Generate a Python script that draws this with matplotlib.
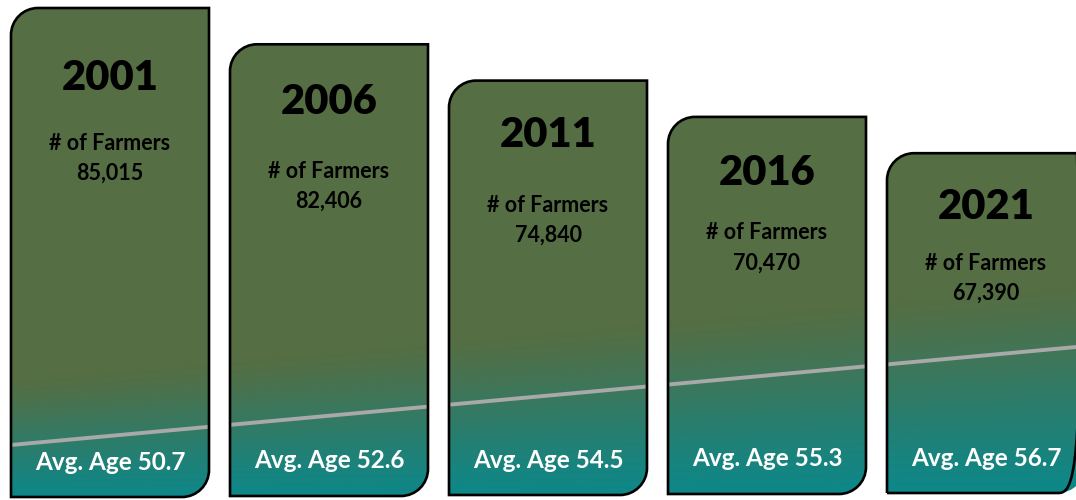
import numpy as np
import matplotlib.pyplot as plt
from matplotlib.path import Path
from matplotlib.patches import PathPatch
from matplotlib.colors import to_rgb

years = ['2001', '2006', '2011', '2016', '2021']
farmers = [85015, 82406, 74840, 70470, 67390]
avg_age = [50.7, 52.6, 54.5, 55.3, 56.7]

W, H = 1076, 500
green = np.array(to_rgb('#566e43'))
teal = np.array(to_rgb('#0c888a'))
plt.rcParams['font.family'] = ['Lato', 'DejaVu Sans']

# card layout (pixel units, y grows downward)
left0, step, width = 11, 219, 198
top0, rise = 8, 36.3
year_off = [70, 58, 54, 56, 54]
label_off = [135, 127, 125, 116, 110]


def line_y(x):
    # slanted divider running through all cards
    return 445 - 0.092 * (x - 11)


def tab_path(x0, y0, x1, y1, r):
    # rectangle with rounded top-left and bottom-right corners
    k = 0.5523 * r
    verts = [
        (x0, y1),
        (x0, y0 + r),
        (x0, y0 + r - k), (x0 + r - k, y0), (x0 + r, y0),
        (x1, y0),
        (x1, y1 - r),
        (x1, y1 - r + k), (x1 - r + k, y1), (x1 - r, y1),
        (x0, y1),
    ]
    codes = [Path.MOVETO, Path.LINETO,
             Path.CURVE4, Path.CURVE4, Path.CURVE4,
             Path.LINETO, Path.LINETO,
             Path.CURVE4, Path.CURVE4, Path.CURVE4,
             Path.CLOSEPOLY]
    return Path(verts, codes)


fig = plt.figure(figsize=(W / 100, H / 100), dpi=100)
ax = fig.add_axes([0, 0, 1, 1])
ax.set_xlim(0, W)
ax.set_ylim(H, 0)
ax.axis('off')

X, Y = np.meshgrid(np.arange(W) + 0.5, np.arange(H) + 0.5)

for i, (yr, n, age) in enumerate(zip(years, farmers, avg_age)):
    x0 = left0 + i * step
    x1 = x0 + width
    top = top0 + i * rise
    bottom = 497 - i
    path = tab_path(x0, top, x1, bottom, 27)

    # fill: flat green that fades to teal towards the bottom, tilted like the divider
    start = line_y(X) - 65
    t = np.clip((Y - start) / (bottom + 4 - start), 0, 1)
    t = t * t * (3 - 2 * t) * 0.35 + t * 0.65
    img = green[None, None, :] * (1 - t[..., None]) + teal[None, None, :] * t[..., None]
    clip = PathPatch(path, transform=ax.transData, facecolor='none', edgecolor='none')
    ax.add_patch(clip)
    im = ax.imshow(img, extent=(0, W, H, 0), origin='upper', zorder=1,
                   interpolation='bilinear')
    im.set_clip_path(clip)

    ln, = ax.plot([0, W], [line_y(0), line_y(W)], color='#a9a9a9', lw=2.8, zorder=2)
    ln.set_clip_path(clip)

    ax.add_patch(PathPatch(path, facecolor='none', edgecolor='black', lw=1.9, zorder=3))

    cx = (x0 + x1) / 2
    ax.text(cx, top + year_off[i], yr, ha='center', va='center',
            fontsize=30, fontweight='heavy', color='black', zorder=4)
    ax.text(cx, top + label_off[i], '# of Farmers', ha='center', va='center',
            fontsize=15.5, fontweight='bold', color='black', zorder=4)
    ax.text(cx, top + label_off[i] + 30, f'{n:,}', ha='center', va='center',
            fontsize=15.5, fontweight='bold', color='black', zorder=4)
    ax.text(cx, bottom - 35, f'Avg. Age {age}', ha='center', va='center',
            fontsize=17.5, fontweight='bold', color='white', zorder=4)

fig.savefig('out.png', dpi=100)
